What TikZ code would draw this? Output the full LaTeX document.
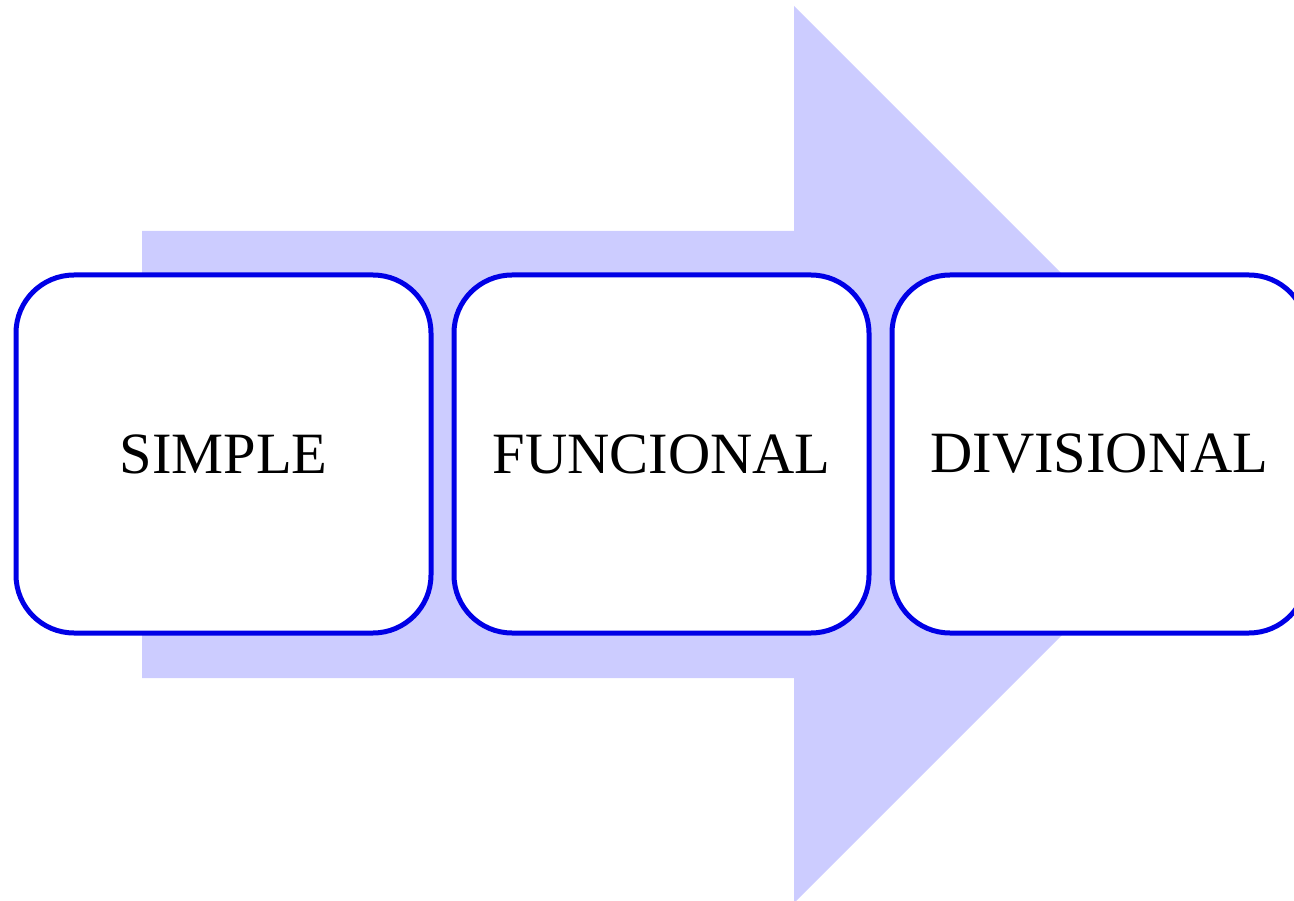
\documentclass[tikz,border=0pt]{standalone}
\usepackage{fontspec}
\setmainfont{Liberation Serif}
\definecolor{arrowfill}{RGB}{204,204,255}
\definecolor{boxline}{RGB}{0,0,230}
\begin{document}
\begin{tikzpicture}[x=1pt,y=-1pt,
  stage/.style={draw=boxline, line width=5pt, fill=white, rounded corners=58pt,
    minimum width=415pt, minimum height=358pt, inner sep=0pt,
    font=\fontsize{58.5}{70}\selectfont}]
\useasboundingbox (0,0) rectangle (1294,901);
\fill[arrowfill] (142,231) -- (794,231) -- (794,6) -- (1242.5,454.5) -- (794,903) -- (794,678) -- (142,678) -- cycle;
\node[stage] (simple) at (223.5,454) {SIMPLE};
\node[stage] (funcional) at (661.5,454) {FUNCIONAL};
\node[stage] (divisional) at (1099.5,454) {DIVISIONAL};
\end{tikzpicture}
\end{document}
